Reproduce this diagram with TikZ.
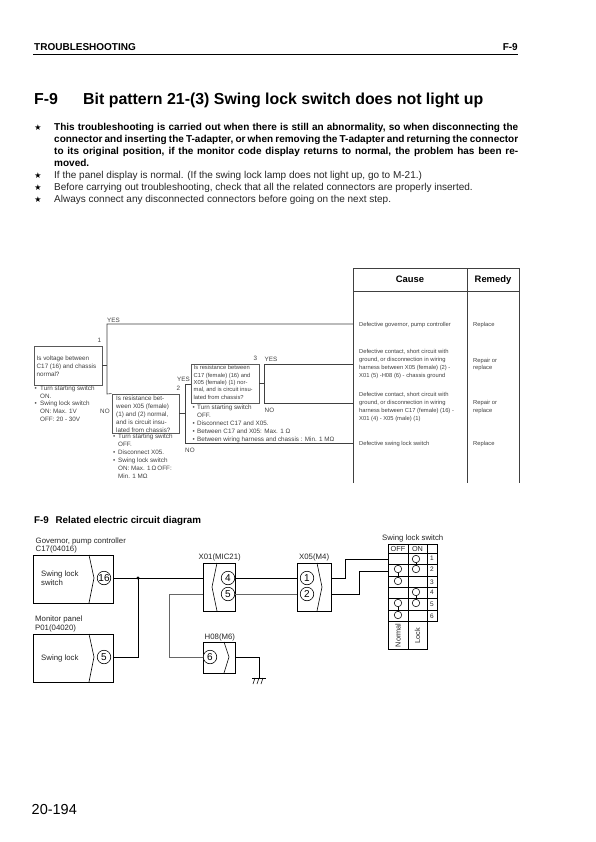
\documentclass[tikz,border=0pt]{standalone}
\usepackage{fontspec}
\setmainfont{Liberation Sans}
\newfontfamily\starfont{DejaVu Sans}
\newcommand{\bul}[1]{\makebox[#1][l]{•}}
\tikzset{
  x=1pt,y=-1pt,
  flowline/.style={draw=black!75,line width=.6pt},
  flowbox/.style={draw=black!65,line width=.9pt},
  txt/.style={anchor=west,inner sep=0pt,font=\fontsize{6.3}{8}\selectfont,text=black!75,align=left},
  tinytxt/.style={anchor=west,inner sep=0pt,font=\fontsize{5.8}{7.7}\selectfont,text=black!75,align=left},
  body/.style={anchor=north west,inner sep=0pt,text width=464pt,align=justify,font=\bfseries\fontsize{10}{12}\selectfont},
  plain/.style={anchor=base west,inner sep=0pt,font=\fontsize{10}{12}\selectfont,text=black!85},
  starmark/.style={anchor=center,inner sep=0pt,font=\starfont\fontsize{8}{8}\selectfont},
  wire/.style={draw=black,line width=.6pt},
  wiregray/.style={draw=black!60,line width=.9pt},
  cbox/.style={draw=black,line width=.6pt},
  circ/.style={circle,draw=black,line width=.6pt,minimum size=13.5pt,inner sep=0pt,font=\fontsize{10}{10}\selectfont,fill=white},
  sc/.style={circle,draw=black,line width=.55pt,minimum size=7.5pt,inner sep=0pt,fill=white},
  clab/.style={anchor=west,inner sep=0pt,font=\fontsize{7.8}{8.6}\selectfont,align=left,text=black!85},
  swt/.style={anchor=center,inner sep=0pt,font=\fontsize{7.3}{7.5}\selectfont,text=black!85}
}
\begin{document}
\begin{tikzpicture}
\useasboundingbox (0,0) rectangle (595,842);
\fill[white] (0,0) rectangle (595,842);
% header
\node[anchor=base west,inner sep=0pt,font=\bfseries\fontsize{10}{12}\selectfont] (hdl) at (34,51) {TROUBLESHOOTING};
\node[anchor=base east,inner sep=0pt,font=\bfseries\fontsize{10}{12}\selectfont] (hdr) at (518,51) {F-9};
\draw[line width=.8pt] (33,54) -- (518,54);
% title
\node[anchor=base west,inner sep=0pt,font=\bfseries\fontsize{15.9}{18}\selectfont] (tl) at (34,104.5) {F-9};
\node[anchor=base west,inner sep=0pt,font=\bfseries\fontsize{15.9}{18}\selectfont] (tt) at (83,104.5) {Bit pattern 21-(3) Swing lock switch does not light up};
% bullets
\node[starmark] (s1) at (38,127.5) {★};
\node[starmark] (s2) at (38,175.5) {★};
\node[starmark] (s3) at (38,187.5) {★};
\node[starmark] (s4) at (38,199.5) {★};
\node[body] (b1) at (54,123) {This troubleshooting is carried out when there is still an abnormality, so when disconnecting the\linebreak connector and inserting the T-adapter, or when removing the T-adapter and returning the connector\linebreak to its original position, if the monitor code display returns to normal, the problem has been re-\linebreak moved.};
\node[plain] (b2) at (54,178.5) {If the panel display is normal. (If the swing lock lamp does not light up, go to M-21.)};
\node[plain] (b3) at (54,190.5) {Before carrying out troubleshooting, check that all the related connectors are properly inserted.};
\node[plain] (b4) at (54,202.5) {Always connect any disconnected connectors before going on the next step.};
% table
\draw[flowline,line width=.7pt] (353,483) -- (353,268) -- (519,268) -- (519,483);
\draw[flowline,line width=.7pt] (467,268) -- (467,483);
\draw[flowline,line width=.7pt] (353,291) -- (519,291);
\node[anchor=base,inner sep=0pt,font=\bfseries\fontsize{9.4}{10}\selectfont] (cause) at (410,282.7) {Cause};
\node[anchor=base,inner sep=0pt,font=\bfseries\fontsize{9.4}{10}\selectfont] (remedy) at (493,282.7) {Remedy};
% flow boxes
\node[flowbox,minimum width=68pt,minimum height=39pt,inner sep=0pt] (q1) at (68,365.5) {};
\node[txt] at (36.5,366) {Is voltage between\\C17 (16) and chassis\\normal?};
\node[flowbox,minimum width=67pt,minimum height=39pt,inner sep=0pt] (q2) at (145.5,413.5) {};
\node[txt] at (116,414) {Is resistance bet-\\ween X05 (female)\\(1) and (2) normal,\\and is circuit insu-\\lated from chassis?};
\node[flowbox,minimum width=68pt,minimum height=39pt,inner sep=0pt] (q3) at (225,383.5) {};
\node[txt,font=\fontsize{5.8}{7.4}\selectfont] at (193.5,382.5) {Is resistance between\\C17 (female) (16) and\\X05 (female) (1) nor-\\mal, and is circuit insu-\\lated from chassis?};
\coordinate (j1) at (107,365.5);
\coordinate (j2) at (185,413.5);
\coordinate (j3) at (264,383.5);
\coordinate (c1) at (353,324);
\coordinate (c2) at (353,364);
\coordinate (c3) at (353,403);
\coordinate (c4) at (353,443);
\draw[flowline] (q1.east) -- (j1);
\draw[flowline] (c1) -| (107,394) -- (q2.north west);
\draw[flowline] (q2.east) -- (j2);
\draw[flowline] (q3.west |- 0,384) -- (185,384) -- (185,443) -- (c4);
\draw[flowline] (q3.east) -- (j3);
\draw[flowline] (c2) -| (264,403) -- (c3);
\node[txt] at (107,320) {YES};
\node[txt] at (97.5,340) {1};
\node[txt] at (100,411) {NO};
\node[txt] at (177,379) {YES};
\node[txt] at (176.5,388.5) {2};
\node[txt] at (253.5,358) {3};
\node[txt] at (264.5,359) {YES};
\node[txt] at (264.5,410) {NO};
\node[txt] at (185,450) {NO};
\node[txt,anchor=north west,font=\fontsize{6.3}{7.85}\selectfont] at (34.5,385.5) {\bul{5.5pt}Turn starting switch\\\hspace*{5.5pt}ON.\\\bul{5.5pt}Swing lock switch\\\hspace*{5.5pt}ON: Max. 1V\\\hspace*{5.5pt}OFF: 20 - 30V};
\node[txt,anchor=north west] at (113,433.5) {\bul{5pt}Turn starting switch\\\hspace*{5pt}OFF.\\\bul{5pt}Disconnect X05.\\\bul{5pt}Swing lock switch\\\hspace*{5pt}ON: Max. 1\,Ω\,OFF:\\\hspace*{5pt}Min. 1 MΩ};
\node[txt,anchor=north west,font=\fontsize{6.3}{8}\selectfont] at (192.5,404.5) {\bul{4.5pt}Turn starting switch\\\hspace*{4.5pt}OFF.\\\bul{4.5pt}Disconnect C17 and X05.\\\bul{4.5pt}Between C17 and X05: Max. 1 Ω\\\bul{4.5pt}Between wiring harness and chassis : Min. 1 MΩ};
% causes
\node[tinytxt] at (359,324.5) {Defective governor, pump controller};
\node[tinytxt] at (359,364) {Defective contact, short circuit with\\ground, or disconnection in wiring\\harness between X05 (female) (2) -\\X01 (5) -H08 (6) - chassis ground};
\node[tinytxt] at (359,407) {Defective contact, short circuit with\\ground, or disconnection in wiring\\harness between C17 (female) (16) -\\X01 (4) - X05 (male) (1)};
\node[tinytxt] at (359,443.5) {Defective swing lock switch};
\node[tinytxt] at (473,324.5) {Replace};
\node[tinytxt] at (473,364.5) {Repair or\\replace};
\node[tinytxt] at (473,407) {Repair or\\replace};
\node[tinytxt] at (473,443.5) {Replace};
% circuit title
\node[anchor=base west,inner sep=0pt,font=\bfseries\fontsize{9.8}{12}\selectfont] (ct) at (34,523.5) {F-9\hspace{4pt} Related electric circuit diagram};
% circuit
\node[clab] at (35.5,545.5) {Governor, pump controller\\C17(04016)};
\node[clab] at (35,624) {Monitor panel\\P01(04020)};
\node[clab,anchor=south west] at (198.5,561.5) {X01(MIC21)};
\node[clab,anchor=south west] at (204.5,641.5) {H08(M6)};
\node[clab,anchor=south west] at (299,561.5) {X05(M4)};
\node[clab,anchor=south west] at (382,542) {Swing lock switch};
\node[clab] at (41,578.5) {Swing lock\\switch};
\node[clab] at (41,658.5) {Swing lock};
\draw[cbox] (33,555) rectangle (113,603);
\draw[cbox] (33,634) rectangle (113,682);
\draw[cbox] (89,555) -- (94,578) -- (89,603);
\draw[cbox] (89,634) -- (94,657) -- (89,682);
\draw[cbox] (203,563) rectangle (235,611);
\draw[cbox] (217,563) -- (212,587) -- (217,611);
\draw[cbox] (203,642) rectangle (235,673);
\draw[cbox] (224,642) -- (229,657) -- (224,673);
\draw[cbox] (297,563) rectangle (331,611);
\draw[cbox] (317,563) -- (322,587) -- (317,611);
\node[circ] (p16) at (104,578) {16};
\node[circ] (p5) at (104,657) {5};
\node[circ] (x4) at (228,578) {4};
\node[circ] (x5) at (228,594) {5};
\node[circ] (h6) at (210,657) {6};
\node[circ] (m1) at (307,578) {1};
\node[circ] (m2) at (307,594) {2};
\coordinate (d) at (138,578);
\fill (d) circle (1.7pt);
\draw[wire] (113,578) -- (203,578);
\draw[wire] (235,578) -- (297,578);
\draw[wire] (113,657) -| (d);
\draw[wiregray] (203,594) -| (169,657) -- (h6.west);
\draw[wiregray] (235,594) -- (297,594);
\draw[wire] (235,657) -| (259,678);
\draw[wire] (252,678) -- (266,678);
\draw[wire] (255,678) -- (253,684) (259,678) -- (257,684) (263,678) -- (261,684);
\draw[wire] (331,578) -- (345,578) -- (345,559) -- (388,559);
\draw[wire] (331,594) -- (359,594) -- (359,571) -- (388,571);
% switch table
\draw[cbox] (388,544) rectangle (408,649);
\draw[cbox] (408,544) rectangle (427,649);
\draw[cbox] (427,544) rectangle (437,621);
\foreach \y in {553,564,576,587,598,610,621}{\draw[cbox] (388,\y) -- (437,\y);}
\node[swt] at (398,549) {OFF};
\node[swt] at (417.5,549) {ON};
\foreach \n/\y in {1/558.5,2/569.5,3/582,4/592.5,5/604,6/616}{\node[swt,font=\fontsize{6.5}{7}\selectfont] at (432,\y) {\n};}
\draw[wire] (416,559)--(416,569) (398,569)--(398,581) (416,592)--(416,603) (398,603)--(398,615);
\foreach \x/\y in {416/559,398/569,416/569,398/581,416/592,398/603,416/603,398/615}{\node[sc] at (\x,\y) {};}
\node[swt,rotate=90] at (398,635.5) {Normal};
\node[swt,rotate=90] at (417.5,635.5) {Lock};
% page number
\node[anchor=base west,inner sep=0pt,font=\fontsize{14.5}{16}\selectfont] (pg) at (31.5,814) {20-194};
\end{tikzpicture}
\end{document}
